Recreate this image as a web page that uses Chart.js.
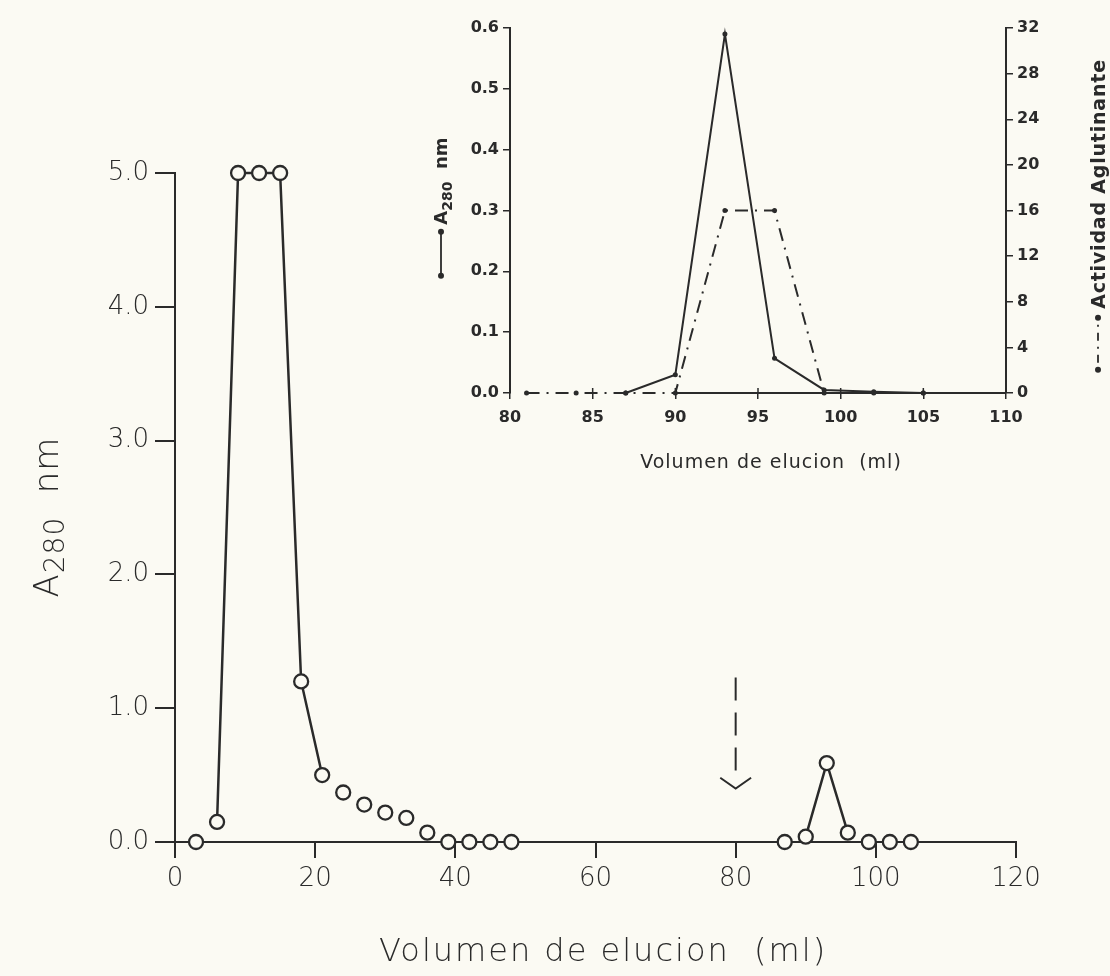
<!DOCTYPE html>
<html>
<head>
<meta charset="utf-8">
<script src="https://cdn.jsdelivr.net/npm/chart.js@4.4.0/dist/chart.umd.min.js"></script>
<style>
  html, body { margin: 0; padding: 0; background: #fbfaf3; }
  #wrap { position: relative; width: 1110px; height: 976px; overflow: hidden; }
  #main { position: absolute; left: 0; top: 0; }
  #inset { position: absolute; left: 400px; top: 0; }
</style>
</head>
<body>
<div id="wrap">
  <canvas id="main" width="1110" height="976"></canvas>
  <canvas id="inset" width="710" height="490"></canvas>
</div>
<script>
// ---------- Main chart data ----------
const mainX = [3, 6, 9, 12, 15, 18, 21, 24, 27, 30, 33, 36, 39, 42, 45, 48, 87, 90, 93, 96, 99, 102, 105];
const mainY = [0, 0.15, 5.0, 5.0, 5.0, 1.2, 0.5, 0.37, 0.28, 0.22, 0.18, 0.07, 0, 0, 0, 0, 0, 0.04, 0.59, 0.07, 0, 0, 0];
// x ranges whose points are joined by a line
const mainRuns = [[6, 21], [90, 96]];
const mainXTicks = [0, 20, 40, 60, 80, 100, 120];
const mainYTicks = [0, 1, 2, 3, 4, 5];
// arrow marker: x, top, bottom of dashed shaft, tip (data units)
const arrowMark = [80, 1.23, 0.52, 0.40];

// ---------- Inset data ----------
const insetX = [87, 90, 93, 96, 99, 102, 105];
const insetA280 = [0.0, 0.03, 0.59, 0.057, 0.005, 0.002, 0.0];
const actX = [81, 84, 87, 90, 93, 96, 99, 102, 105];
const actY = [0, 0, 0, 0, 16, 16, 0, 0, 0];
const insetXTicks = [80, 85, 90, 95, 100, 105, 110];
const insetYTicks = [0, 0.1, 0.2, 0.3, 0.4, 0.5, 0.6];
const insetY1Ticks = [0, 4, 8, 12, 16, 20, 24, 28, 32];
const insetAxisSpan = [90, 110];

const INK = '#2a2a2a';
const BG = '#fbfaf3';
const MAINFONT = "'DejaVu Sans', sans-serif";

const pts = mainX.map((x, i) => ({x, y: mainY[i]}));
const lineSets = mainRuns.map(r => ({
  type: 'scatter',
  data: pts.filter(p => p.x >= r[0] && p.x <= r[1]),
  showLine: true,
  clip: false,
  borderColor: INK,
  borderWidth: 2.5,
  pointRadius: 0,
  tension: 0
}));

const mainPlugin = {
  id: 'mainDeco',
  afterDraw(chart) {
    const ctx = chart.ctx, xs = chart.scales.x, ys = chart.scales.y, ca = chart.chartArea;
    ctx.save();
    ctx.fillStyle = INK;
    ctx.strokeStyle = INK;
    // x title
    ctx.font = "200 32px " + MAINFONT;
    ctx.letterSpacing = '2px';
    ctx.textAlign = 'center';
    ctx.textBaseline = 'middle';
    ctx.fillText('Volumen de elucion  (ml)', 603, 953);
    ctx.restore();
    // y title with subscript
    ctx.save();
    ctx.fillStyle = INK;
    ctx.letterSpacing = '1px';
    ctx.translate(50, 517);
    ctx.rotate(-Math.PI / 2);
    const big = "200 34px " + MAINFONT, small = "200 28px " + MAINFONT;
    ctx.font = big; const wA = ctx.measureText('A').width; const wNm = ctx.measureText('  nm').width;
    ctx.font = small; const w280 = ctx.measureText('280').width;
    const total = wA + w280 + wNm;
    let px = -total / 2;
    ctx.textAlign = 'left';
    ctx.textBaseline = 'alphabetic';
    ctx.font = big; ctx.fillText('A', px, 8); px += wA;
    ctx.font = small; ctx.fillText('280', px, 14); px += w280;
    ctx.font = big; ctx.fillText('  nm', px, 8);
    ctx.restore();
    // arrow
    ctx.save();
    ctx.strokeStyle = INK;
    ctx.lineWidth = 2;
    const ax = xs.getPixelForValue(arrowMark[0]);
    ctx.setLineDash([23, 12]);
    ctx.beginPath();
    ctx.moveTo(ax, ys.getPixelForValue(arrowMark[1]));
    ctx.lineTo(ax, ys.getPixelForValue(arrowMark[2]));
    ctx.stroke();
    ctx.setLineDash([]);
    const tipY = ys.getPixelForValue(arrowMark[3]);
    const armY = ys.getPixelForValue(arrowMark[3] + 0.08);
    ctx.beginPath();
    ctx.moveTo(xs.getPixelForValue(arrowMark[0] - 2.2), armY);
    ctx.lineTo(ax, tipY);
    ctx.lineTo(xs.getPixelForValue(arrowMark[0] + 2.2), armY);
    ctx.stroke();
    ctx.restore();
  }
};

new Chart(document.getElementById('main'), {
  type: 'scatter',
  data: {
    datasets: [
      {
        data: pts,
        showLine: false,
        clip: false,
        pointStyle: 'circle',
        pointRadius: 7,
        pointBorderWidth: 2.3,
        pointBorderColor: INK,
        pointBackgroundColor: BG
      },
      ...lineSets
    ]
  },
  options: {
    responsive: false,
    animation: false,
    events: [],
    layout: { padding: { top: 173, right: 94, left: 0, bottom: 0 } },
    plugins: { legend: { display: false }, tooltip: { enabled: false } },
    scales: {
      x: {
        type: 'linear', min: 0, max: 120,
        afterBuildTicks: s => { s.ticks = mainXTicks.map(v => ({value: v})); },
        afterFit: s => { s.height = 134; },
        ticks: { color: INK, font: { family: MAINFONT, size: 26, weight: '200' }, padding: 6, maxRotation: 0 },
        grid: { drawOnChartArea: false, drawTicks: true, tickLength: 16, color: INK, lineWidth: 2 },
        border: { display: true, color: INK, width: 2 }
      },
      y: {
        type: 'linear', min: 0, max: 5,
        afterBuildTicks: s => { s.ticks = mainYTicks.map(v => ({value: v})); },
        afterFit: s => { s.width = 175; },
        ticks: { color: INK, font: { family: MAINFONT, size: 26, weight: '200' }, padding: 6, callback: v => v.toFixed(1) },
        grid: { drawOnChartArea: false, drawTicks: true, tickLength: 20, color: INK, lineWidth: 2 },
        border: { display: true, color: INK, width: 2 }
      }
    }
  },
  plugins: [mainPlugin]
});

// ---------- Inset ----------
const INFONT = "'DejaVu Sans', sans-serif";
const insetPlugin = {
  id: 'insetDeco',
  afterDraw(chart) {
    const ctx = chart.ctx, xs = chart.scales.x, ys = chart.scales.y, ca = chart.chartArea;
    ctx.save();
    ctx.fillStyle = INK; ctx.strokeStyle = INK;
    // partial x axis line
    ctx.lineWidth = 2;
    const y0 = ys.getPixelForValue(0);
    ctx.beginPath();
    ctx.moveTo(xs.getPixelForValue(insetAxisSpan[0]), y0);
    ctx.lineTo(xs.getPixelForValue(insetAxisSpan[1]), y0);
    ctx.stroke();
    // upper half of crossing x ticks
    ctx.lineWidth = 1.5;
    insetXTicks.forEach(v => {
      const tx = xs.getPixelForValue(v);
      ctx.beginPath(); ctx.moveTo(tx, y0); ctx.lineTo(tx, y0 - 5); ctx.stroke();
    });
    // x title
    ctx.font = "19px " + INFONT;
    ctx.letterSpacing = '1px';
    ctx.textAlign = 'center'; ctx.textBaseline = 'middle';
    ctx.fillText('Volumen de elucion  (ml)', 371, 463);
    ctx.restore();

    // left title: •—• A280 nm
    ctx.save();
    ctx.fillStyle = INK; ctx.strokeStyle = INK;
    ctx.translate(47, 208);
    ctx.rotate(-Math.PI / 2);
    const f = "bold 18px " + INFONT, fs = "bold 14px " + INFONT;
    const symW = 50;
    ctx.font = f; const wA = ctx.measureText('A').width, wNm = ctx.measureText('  nm').width;
    ctx.font = fs; const w280 = ctx.measureText('280').width;
    const tot = symW + 4 + wA + w280 + wNm;
    let px = -tot / 2;
    ctx.lineWidth = 1.8;
    ctx.beginPath(); ctx.arc(px + 3, -6, 3, 0, Math.PI * 2); ctx.fill();
    ctx.beginPath(); ctx.moveTo(px + 3, -6); ctx.lineTo(px + symW - 3, -6); ctx.stroke();
    ctx.beginPath(); ctx.arc(px + symW - 3, -6, 3, 0, Math.PI * 2); ctx.fill();
    px += symW + 4;
    ctx.textAlign = 'left'; ctx.textBaseline = 'alphabetic';
    ctx.font = f; ctx.fillText('A', px, 0); px += wA;
    ctx.font = fs; ctx.fillText('280', px, 5); px += w280;
    ctx.font = f; ctx.fillText('  nm', px, 0);
    ctx.restore();

    // right title: •-·-• Actividad Aglutinante
    ctx.save();
    ctx.fillStyle = INK; ctx.strokeStyle = INK;
    ctx.translate(705, 216);
    ctx.rotate(-Math.PI / 2);
    ctx.font = "bold 19px " + INFONT;
    ctx.letterSpacing = '0.8px';
    const txt = 'Actividad Aglutinante';
    const wt = ctx.measureText(txt).width;
    const sym2 = 58;
    const tot2 = sym2 + 6 + wt;
    let qx = -tot2 / 2;
    ctx.beginPath(); ctx.arc(qx + 3, -7, 3, 0, Math.PI * 2); ctx.fill();
    ctx.lineWidth = 1.8;
    ctx.setLineDash([8, 6, 2, 6]);
    ctx.beginPath(); ctx.moveTo(qx + 10, -7); ctx.lineTo(qx + sym2 - 6, -7); ctx.stroke();
    ctx.setLineDash([]);
    ctx.beginPath(); ctx.arc(qx + sym2 - 3, -7, 3, 0, Math.PI * 2); ctx.fill();
    qx += sym2 + 6;
    ctx.textAlign = 'left'; ctx.textBaseline = 'alphabetic';
    ctx.fillText(txt, qx, 0);
    ctx.restore();
  }
};

const tickFont = { family: INFONT, size: 16, weight: 'bold' };
new Chart(document.getElementById('inset'), {
  type: 'scatter',
  data: {
    datasets: [
      {
        data: insetX.map((x, i) => ({x, y: insetA280[i]})),
        yAxisID: 'y',
        showLine: true,
        clip: false,
        borderColor: INK,
        borderWidth: 2,
        pointRadius: 2.5,
        pointBackgroundColor: INK,
        pointBorderColor: INK,
        pointBorderWidth: 0,
        tension: 0
      },
      {
        data: actX.map((x, i) => ({x, y: actY[i]})),
        yAxisID: 'y1',
        showLine: true,
        clip: false,
        borderColor: INK,
        borderWidth: 2,
        borderDash: [13, 7, 2, 7],
        pointRadius: 2.5,
        pointBackgroundColor: INK,
        pointBorderColor: INK,
        pointBorderWidth: 0,
        tension: 0
      }
    ]
  },
  options: {
    responsive: false,
    animation: false,
    events: [],
    layout: { padding: { top: 28, right: 0, left: 0, bottom: 0 } },
    plugins: { legend: { display: false }, tooltip: { enabled: false } },
    scales: {
      x: {
        type: 'linear', min: 80, max: 110,
        afterBuildTicks: s => { s.ticks = insetXTicks.map(v => ({value: v})); },
        afterFit: s => { s.height = 97; },
        ticks: { color: INK, font: tickFont, padding: 9, maxRotation: 0 },
        grid: { drawOnChartArea: false, drawTicks: true, tickLength: 6, color: INK, lineWidth: 1.5 },
        border: { display: false }
      },
      y: {
        type: 'linear', position: 'left', min: 0, max: 0.6,
        afterBuildTicks: s => { s.ticks = insetYTicks.map(v => ({value: v})); },
        afterFit: s => { s.width = 110; },
        ticks: { color: INK, font: tickFont, padding: 4, callback: v => v.toFixed(1) },
        grid: { drawOnChartArea: false, drawTicks: true, tickLength: 7, color: INK, lineWidth: 1.5 },
        border: { display: true, color: INK, width: 2 }
      },
      y1: {
        type: 'linear', position: 'right', min: 0, max: 32,
        afterBuildTicks: s => { s.ticks = insetY1Ticks.map(v => ({value: v})); },
        afterFit: s => { s.width = 104; },
        ticks: { color: INK, font: tickFont, padding: 4 },
        grid: { drawOnChartArea: false, drawTicks: true, tickLength: 7, color: INK, lineWidth: 1.5 },
        border: { display: true, color: INK, width: 2 }
      }
    }
  },
  plugins: [insetPlugin]
});
</script>
</body>
</html>
